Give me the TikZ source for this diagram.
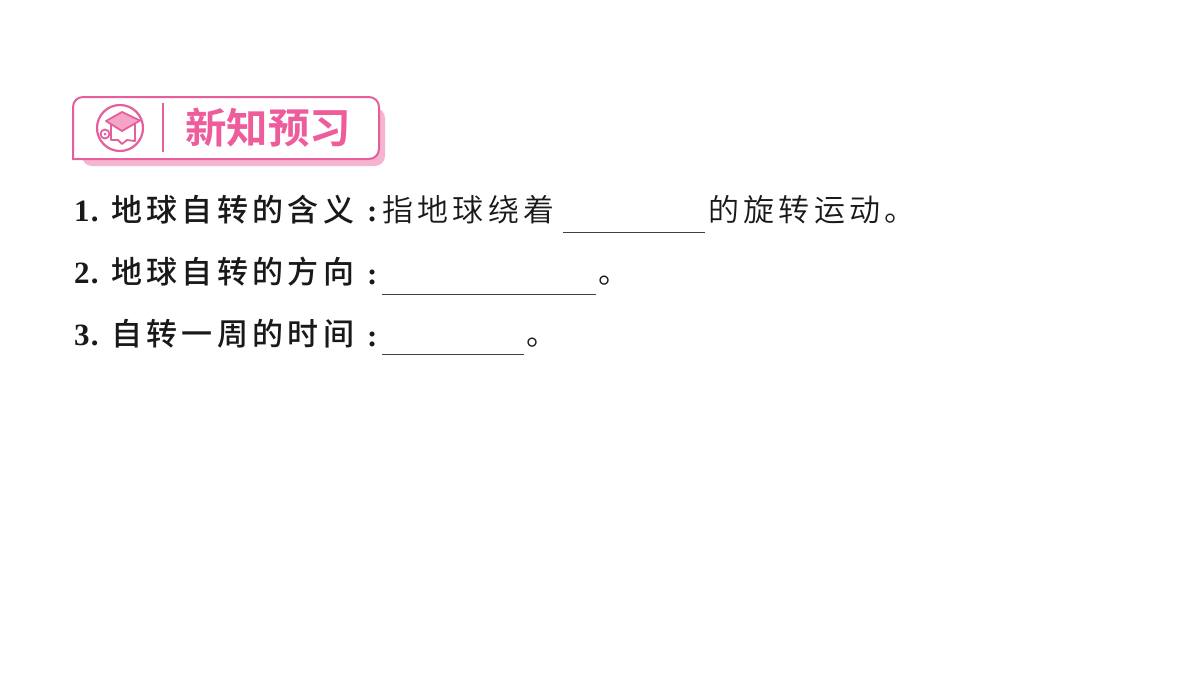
\documentclass[tikz,border=0pt]{standalone}
\usepackage{fontspec}
\setmainfont{Liberation Serif}
\newfontfamily\cjkb[LetterSpace=14]{Noto Sans CJK SC Medium}
\newfontfamily\cjkr[LetterSpace=14]{Noto Sans CJK SC DemiLight}
\newfontfamily\cjkt[LetterSpace=0]{Noto Sans CJK SC Bold}
\definecolor{pinkline}{HTML}{E45F9B}
\definecolor{pinkshadow}{HTML}{F5B5D0}
\definecolor{pinkfill}{HTML}{F5A3C7}
\definecolor{pinktitle}{HTML}{EE5C9C}
\tikzset{
  txt/.style={anchor=base west,inner sep=0pt,outer sep=0pt,text=black!90,font=\fontsize{31}{31}\selectfont},
  numtxt/.style={txt,font=\fontsize{31}{31}\selectfont\bfseries},
  blank/.style={draw=black!75,line width=0.9pt},
  iconline/.style={draw=pinkline,line width=1.8pt,line join=round}
}
\begin{document}
\begin{tikzpicture}[x=1pt,y=-1pt]
\useasboundingbox (0,0) rectangle (1200,675);
% banner shadow
\fill[pinkshadow,rounded corners=10pt] (82,140) -- (82,166) -- (385,166) -- (385,108) -- (360,108) -- cycle;
% banner
\draw[pinkline,fill=white,line width=2pt,line join=miter]
  (73,159) [rounded corners=10pt] -- (73,97) -- (379,97) -- (379,159) [sharp corners] -- cycle;
% icon
\node[circle,draw=pinkline,line width=2.2pt,minimum size=46pt,inner sep=0pt] (badge) at (120,128) {};
\draw[iconline,fill=white] (111,124) -- (111,140) -- (118,140) -- (122,144) -- (127,140) -- (135,141) -- (135,124) -- cycle;
\draw[iconline,fill=pinkfill] (122,112) -- (140,120.5) -- (122,131) -- (106,121) -- cycle;
\node[circle,draw=pinkline,fill=white,line width=1.8pt,minimum size=9pt,inner sep=0pt] (seal) at (105,134) {};
\fill[pinkline] (seal.center) circle (1.5);
\draw[pinkline,line width=2pt] (163,103) -- (163,152);
\node[anchor=center,inner sep=0pt,text=pinktitle,font=\fontsize{41.5}{41.5}\selectfont\cjkt] (title) at (268,128) {新知预习};
% row 1
\node[numtxt] (n1) at (74,221) {1\hspace{1.5pt}.};
\node[txt] (a1) at (111,221) {\cjkb 地球自转的含义};
\node[numtxt] (c1) at (367,221) {:};
\node[txt] (b1) at (382,221) {\cjkr 指地球绕着};
\coordinate (l1a) at (563,232); \coordinate (l1b) at (705,232);
\draw[blank] (l1a) -- (l1b);
\node[txt] (d1) at (708,221) {\cjkr 的旋转运动。};
% row 2
\node[numtxt] (n2) at (74,283) {2\hspace{1.5pt}.};
\node[txt] (a2) at (111,283) {\cjkb 地球自转的方向};
\node[numtxt] (c2) at (367,284) {:};
\coordinate (l2a) at (382,294); \coordinate (l2b) at (596,294);
\draw[blank] (l2a) -- (l2b);
\node[txt] (d2) at (598,283) {\cjkr 。};
% row 3
\node[numtxt] (n3) at (74,345) {3\hspace{1.5pt}.};
\node[txt] (a3) at (111,345) {\cjkb 自转一周的时间};
\node[numtxt] (c3) at (367,346) {:};
\coordinate (l3a) at (382,354); \coordinate (l3b) at (524,354);
\draw[blank] (l3a) -- (l3b);
\node[txt] (d3) at (526,345) {\cjkr 。};
\end{tikzpicture}
\end{document}
